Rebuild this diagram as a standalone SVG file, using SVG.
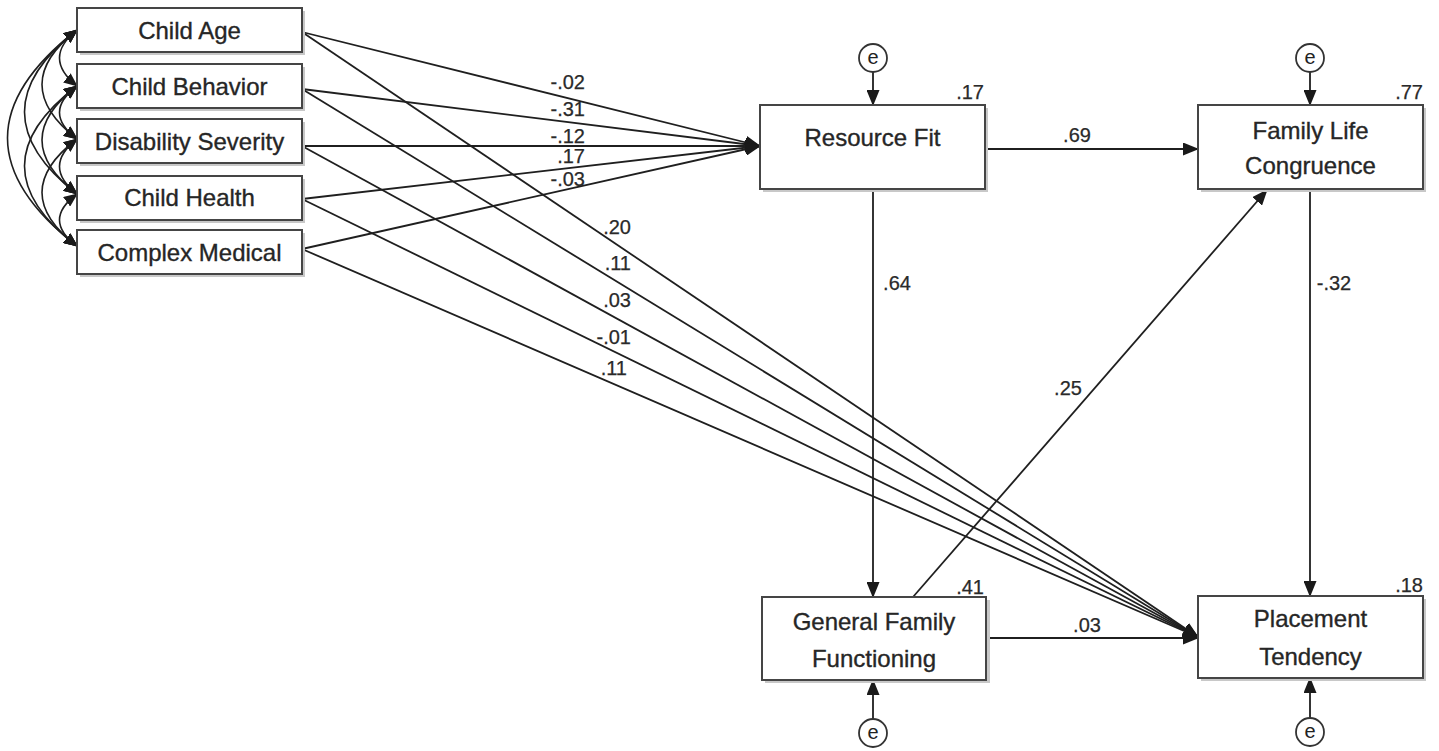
<svg xmlns="http://www.w3.org/2000/svg" width="1439" height="751" viewBox="0 0 1439 751">
<defs>
<marker id="ah" markerUnits="userSpaceOnUse" markerWidth="16" markerHeight="13" refX="15" refY="6.5" orient="auto">
<path d="M0,0 L16,6.5 L0,13 z" fill="#1a1a1a"/>
</marker>
<marker id="ahs" markerUnits="userSpaceOnUse" markerWidth="14" markerHeight="12" refX="13" refY="6" orient="auto-start-reverse">
<path d="M0,0 L14,6 L0,12 z" fill="#1a1a1a"/>
</marker>
</defs>
<style>
.box{fill:#fff;stroke:#454545;stroke-width:2}
.sh{fill:#c8c8c8}
.t{font-family:"Liberation Sans",Arial,sans-serif;font-size:24px;fill:#262626;stroke:#262626;stroke-width:0.35;text-anchor:middle}
.n{font-family:"Liberation Sans",Arial,sans-serif;font-size:20px;fill:#2a2a2a;stroke:#2a2a2a;stroke-width:0.25}
.c{fill:none;stroke:#1f1f1f;stroke-width:1.8}
.a{marker-end:url(#ah)}
.cv{fill:none;stroke:#1f1f1f;stroke-width:1.6;marker-start:url(#ahs);marker-end:url(#ahs)}
.e{fill:#fff;stroke:#333;stroke-width:1.8}
.et{font-family:"Liberation Sans",Arial,sans-serif;font-size:20px;fill:#222;text-anchor:middle}
</style>
<rect width="1439" height="751" fill="#fff"/>

<g id="connectors">
<!-- covariances -->
<path class="cv" d="M77,30 Q42,58 77,86"/>
<path class="cv" d="M77,86 Q42,112.5 77,139"/>
<path class="cv" d="M77,139 Q42,166.5 77,194"/>
<path class="cv" d="M77,194 Q42,220 77,246"/>
<path class="cv" d="M77,30 Q7,84.5 77,139"/>
<path class="cv" d="M77,86 Q7,140 77,194"/>
<path class="cv" d="M77,139 Q7,192.5 77,246"/>
<path class="cv" d="M77,30 Q-28,112 77,194"/>
<path class="cv" d="M77,86 Q-28,166 77,246"/>
<path class="cv" d="M77,30 Q-62,138 77,246"/>
<!-- predictors to Resource Fit -->
<line class="c a" x1="302" y1="32" x2="760" y2="146"/>
<line class="c a" x1="302" y1="89" x2="760" y2="146"/>
<line class="c a" x1="302" y1="146" x2="760" y2="146"/>
<line class="c a" x1="302" y1="199" x2="760" y2="146"/>
<line class="c a" x1="302" y1="249" x2="760" y2="146"/>
<!-- predictors to Placement Tendency -->
<line class="c a" x1="302" y1="32" x2="1198" y2="637"/>
<line class="c a" x1="302" y1="89" x2="1198" y2="637"/>
<line class="c a" x1="302" y1="146" x2="1198" y2="637"/>
<line class="c a" x1="302" y1="199" x2="1198" y2="637"/>
<line class="c a" x1="302" y1="249" x2="1198" y2="637"/>
<!-- structural paths -->
<line class="c a" x1="985" y1="149" x2="1198" y2="149"/>
<line class="c a" x1="873" y1="189" x2="873" y2="597"/>
<line class="c a" x1="1310" y1="189" x2="1310" y2="596"/>
<line class="c a" x1="913" y1="597" x2="1267" y2="190"/>
<line class="c a" x1="986" y1="638" x2="1198" y2="638"/>
<!-- error terms -->
<line class="c a" x1="873" y1="72" x2="873" y2="105"/>
<line class="c a" x1="1310" y1="72" x2="1310" y2="105"/>
<line class="c a" x1="873" y1="719" x2="873" y2="680"/>
<line class="c a" x1="1310" y1="718" x2="1310" y2="678"/>
</g>

<g id="labels">
<text class="n" x="585" y="89" text-anchor="end">-.02</text>
<text class="n" x="585" y="116" text-anchor="end">-.31</text>
<text class="n" x="585" y="143" text-anchor="end">-.12</text>
<text class="n" x="585" y="163" text-anchor="end">.17</text>
<text class="n" x="585" y="186" text-anchor="end">-.03</text>
<text class="n" x="631" y="234" text-anchor="end">.20</text>
<text class="n" x="631" y="270" text-anchor="end">.11</text>
<text class="n" x="631" y="307" text-anchor="end">.03</text>
<text class="n" x="631" y="344" text-anchor="end">-.01</text>
<text class="n" x="627" y="375" text-anchor="end">.11</text>
<text class="n" x="1077" y="142" text-anchor="middle">.69</text>
<text class="n" x="897" y="290" text-anchor="middle">.64</text>
<text class="n" x="1334" y="290" text-anchor="middle">-.32</text>
<text class="n" x="1068" y="395" text-anchor="middle">.25</text>
<text class="n" x="1087" y="632" text-anchor="middle">.03</text>
<text class="n" x="984" y="99" text-anchor="end">.17</text>
<text class="n" x="1423" y="99" text-anchor="end">.77</text>
<text class="n" x="984" y="594" text-anchor="end">.41</text>
<text class="n" x="1423" y="592" text-anchor="end">.18</text>
</g>

<g id="child-age">
<rect class="sh" x="80" y="11" width="225" height="44"/>
<rect class="box" x="77" y="8" width="225" height="44"/>
<text class="t" x="189.5" y="39">Child Age</text>
</g>
<g id="child-behavior">
<rect class="sh" x="80" y="67" width="225" height="44"/>
<rect class="box" x="77" y="64" width="225" height="44"/>
<text class="t" x="189.5" y="95">Child Behavior</text>
</g>
<g id="disability-severity">
<rect class="sh" x="80" y="122" width="225" height="44"/>
<rect class="box" x="77" y="119" width="225" height="44"/>
<text class="t" x="189.5" y="150">Disability Severity</text>
</g>
<g id="child-health">
<rect class="sh" x="80" y="179" width="225" height="44"/>
<rect class="box" x="77" y="176" width="225" height="44"/>
<text class="t" x="189.5" y="206">Child Health</text>
</g>
<g id="complex-medical">
<rect class="sh" x="80" y="233" width="225" height="44"/>
<rect class="box" x="77" y="230" width="225" height="44"/>
<text class="t" x="189.5" y="261">Complex Medical</text>
</g>

<g id="resource-fit">
<rect class="sh" x="763" y="108" width="225" height="84"/>
<rect class="box" x="760" y="105" width="225" height="84"/>
<text class="t" x="872.5" y="146">Resource Fit</text>
</g>
<g id="family-life-congruence">
<rect class="sh" x="1201" y="108" width="225" height="84"/>
<rect class="box" x="1198" y="105" width="225" height="84"/>
<text class="t" x="1310.5" y="139">Family Life</text>
<text class="t" x="1310.5" y="174">Congruence</text>
</g>
<g id="general-family-functioning">
<rect class="sh" x="765" y="600" width="225" height="83"/>
<rect class="box" x="762" y="597" width="224" height="83"/>
<text class="t" x="874" y="630">General Family</text>
<text class="t" x="874" y="667">Functioning</text>
</g>
<g id="placement-tendency">
<rect class="sh" x="1201" y="599" width="225" height="82"/>
<rect class="box" x="1198" y="596" width="225" height="82"/>
<text class="t" x="1310.5" y="627">Placement</text>
<text class="t" x="1310.5" y="665">Tendency</text>
</g>

<g id="e-resource-fit">
<circle class="e" cx="873" cy="58" r="14"/>
<text class="et" x="873" y="64">e</text>
</g>
<g id="e-family-life">
<circle class="e" cx="1310" cy="58" r="14"/>
<text class="et" x="1310" y="64">e</text>
</g>
<g id="e-general-family">
<circle class="e" cx="873" cy="733" r="14"/>
<text class="et" x="873" y="739">e</text>
</g>
<g id="e-placement">
<circle class="e" cx="1310" cy="732" r="14"/>
<text class="et" x="1310" y="738">e</text>
</g>
</svg>
